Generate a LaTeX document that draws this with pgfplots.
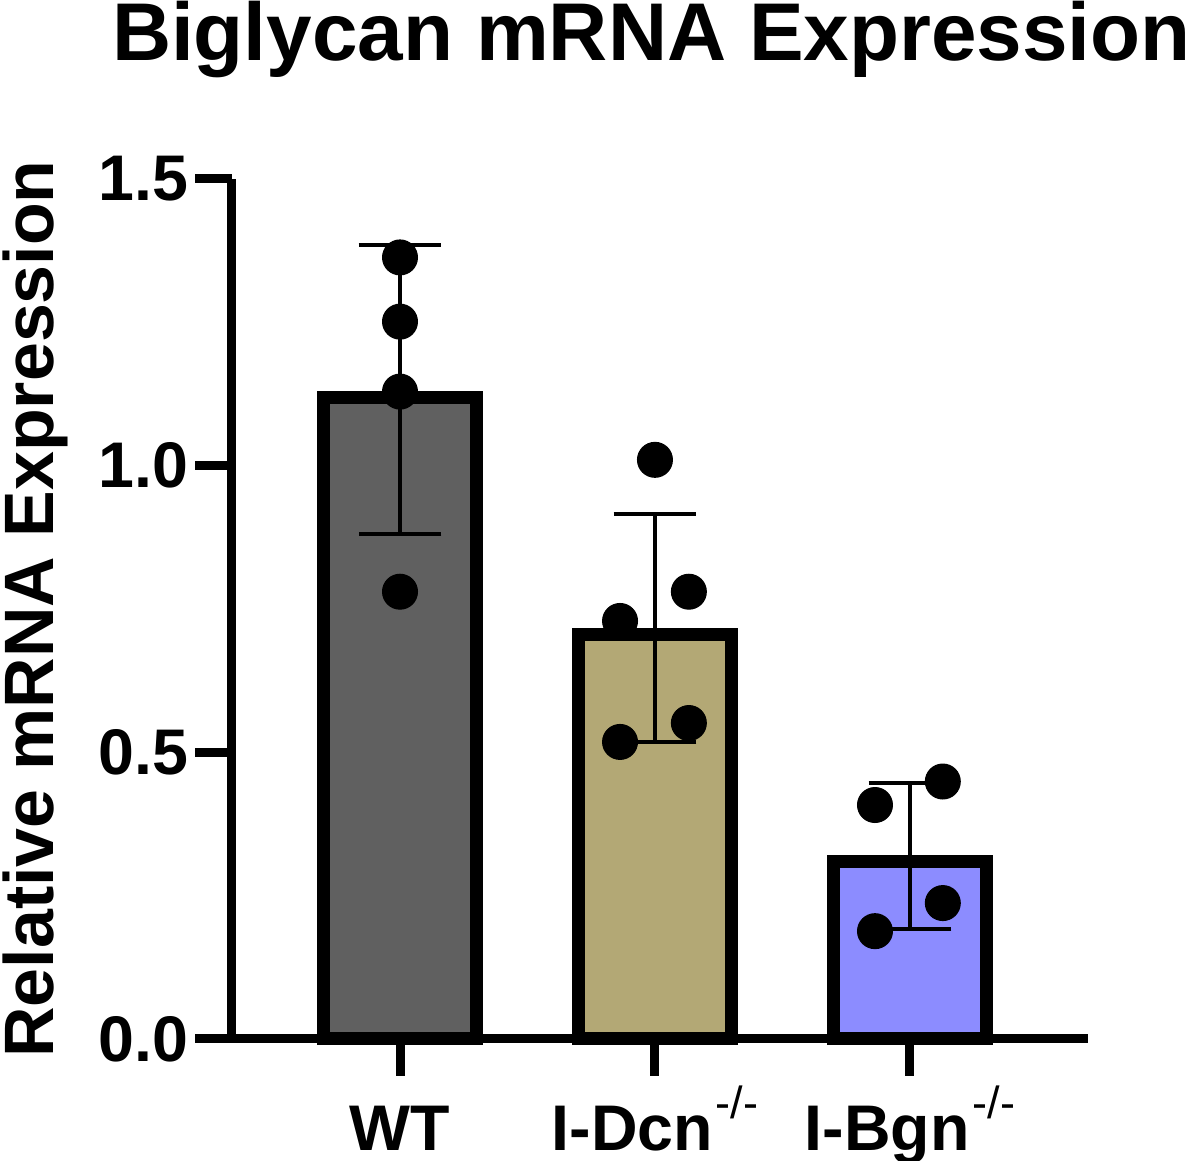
\documentclass[border=0pt]{standalone}
\usepackage{fontspec}
\setmainfont{Liberation Sans}
\usepackage{pgfplots}
\pgfplotsset{compat=1.18}
\definecolor{wtcol}{RGB}{96,96,96}
\definecolor{dcncol}{RGB}{179,168,117}
\definecolor{bgncol}{RGB}{140,140,255}
\newcommand{\ko}{\kern1pt\raisebox{10.7pt}{\fontsize{15}{15}\selectfont\mdseries -/-}}
\begin{document}
\begin{tikzpicture}
\useasboundingbox (-77.33pt,-40.67pt) rectangle (322.67pt,346.33pt);
\begin{axis}[
  at={(0pt,0pt)}, anchor=south west,
  scale only axis, width=285.3pt, height=286.7pt,
  xmin=-0.659, xmax=2.698, ymin=0, ymax=1.5,
  axis lines*=left,
  axis line style={line width=3pt, black},
  clip=false,
  tick align=outside,
  major tick length=12.3pt,
  major tick style={line width=3pt, black},
  xtick={0,1,2},
  xticklabels={WT, I-Dcn\ko, I-Bgn\ko},
  xticklabel style={anchor=base, yshift=-25pt},
  ytick={0,0.5,1,1.5},
  yticklabel style={xshift=1.3pt, /pgf/number format/.cd, fixed, fixed zerofill, precision=1, assume math mode=true},
  ticklabel style={font=\fontsize{21.5}{25}\selectfont\bfseries},
  ylabel={Relative mRNA Expression},
  ylabel style={font=\fontsize{23.3}{27}\selectfont\bfseries, at={(axis description cs:-0.23,0.5)}, anchor=center},
  title={Biglycan mRNA Expression},
  title style={font=\fontsize{27.3}{32}\selectfont\bfseries, at={(axis description cs:0.49,1)}, anchor=base, yshift=33.5pt},
]
% bars
\addplot[ybar, bar width=0.6, bar shift=0pt, fill=wtcol, draw=black, line width=4.33pt] coordinates {(0,1.119)};
\addplot[ybar, bar width=0.6, bar shift=0pt, fill=dcncol, draw=black, line width=4.33pt] coordinates {(1,0.706)};
\addplot[ybar, bar width=0.6, bar shift=0pt, fill=bgncol, draw=black, line width=4.33pt] coordinates {(2,0.309)};
% error bars
\addplot[draw=none, mark=none,
  error bars/.cd, y dir=both, y explicit,
  error bar style={line width=1.33pt, black},
  error mark options={rotate=90, line width=1.33pt, mark size=13.8pt, black}]
  coordinates {(0,1.132) +- (0,0.252) (1,0.717) +- (0,0.199) (2,0.3195) +- (0,0.1275)};
% individual points
\addplot[only marks, mark=*, mark size=5.8pt, black, fill=black] coordinates {
  (0,1.363) (0,1.251) (0,1.129) (0,0.780)
  (1,1.010) (1.133,0.780) (0.863,0.729) (1.133,0.551) (0.863,0.518)
  (2.129,0.449) (1.863,0.408) (2.129,0.237) (1.863,0.188)
};
\end{axis}
\end{tikzpicture}
\end{document}
